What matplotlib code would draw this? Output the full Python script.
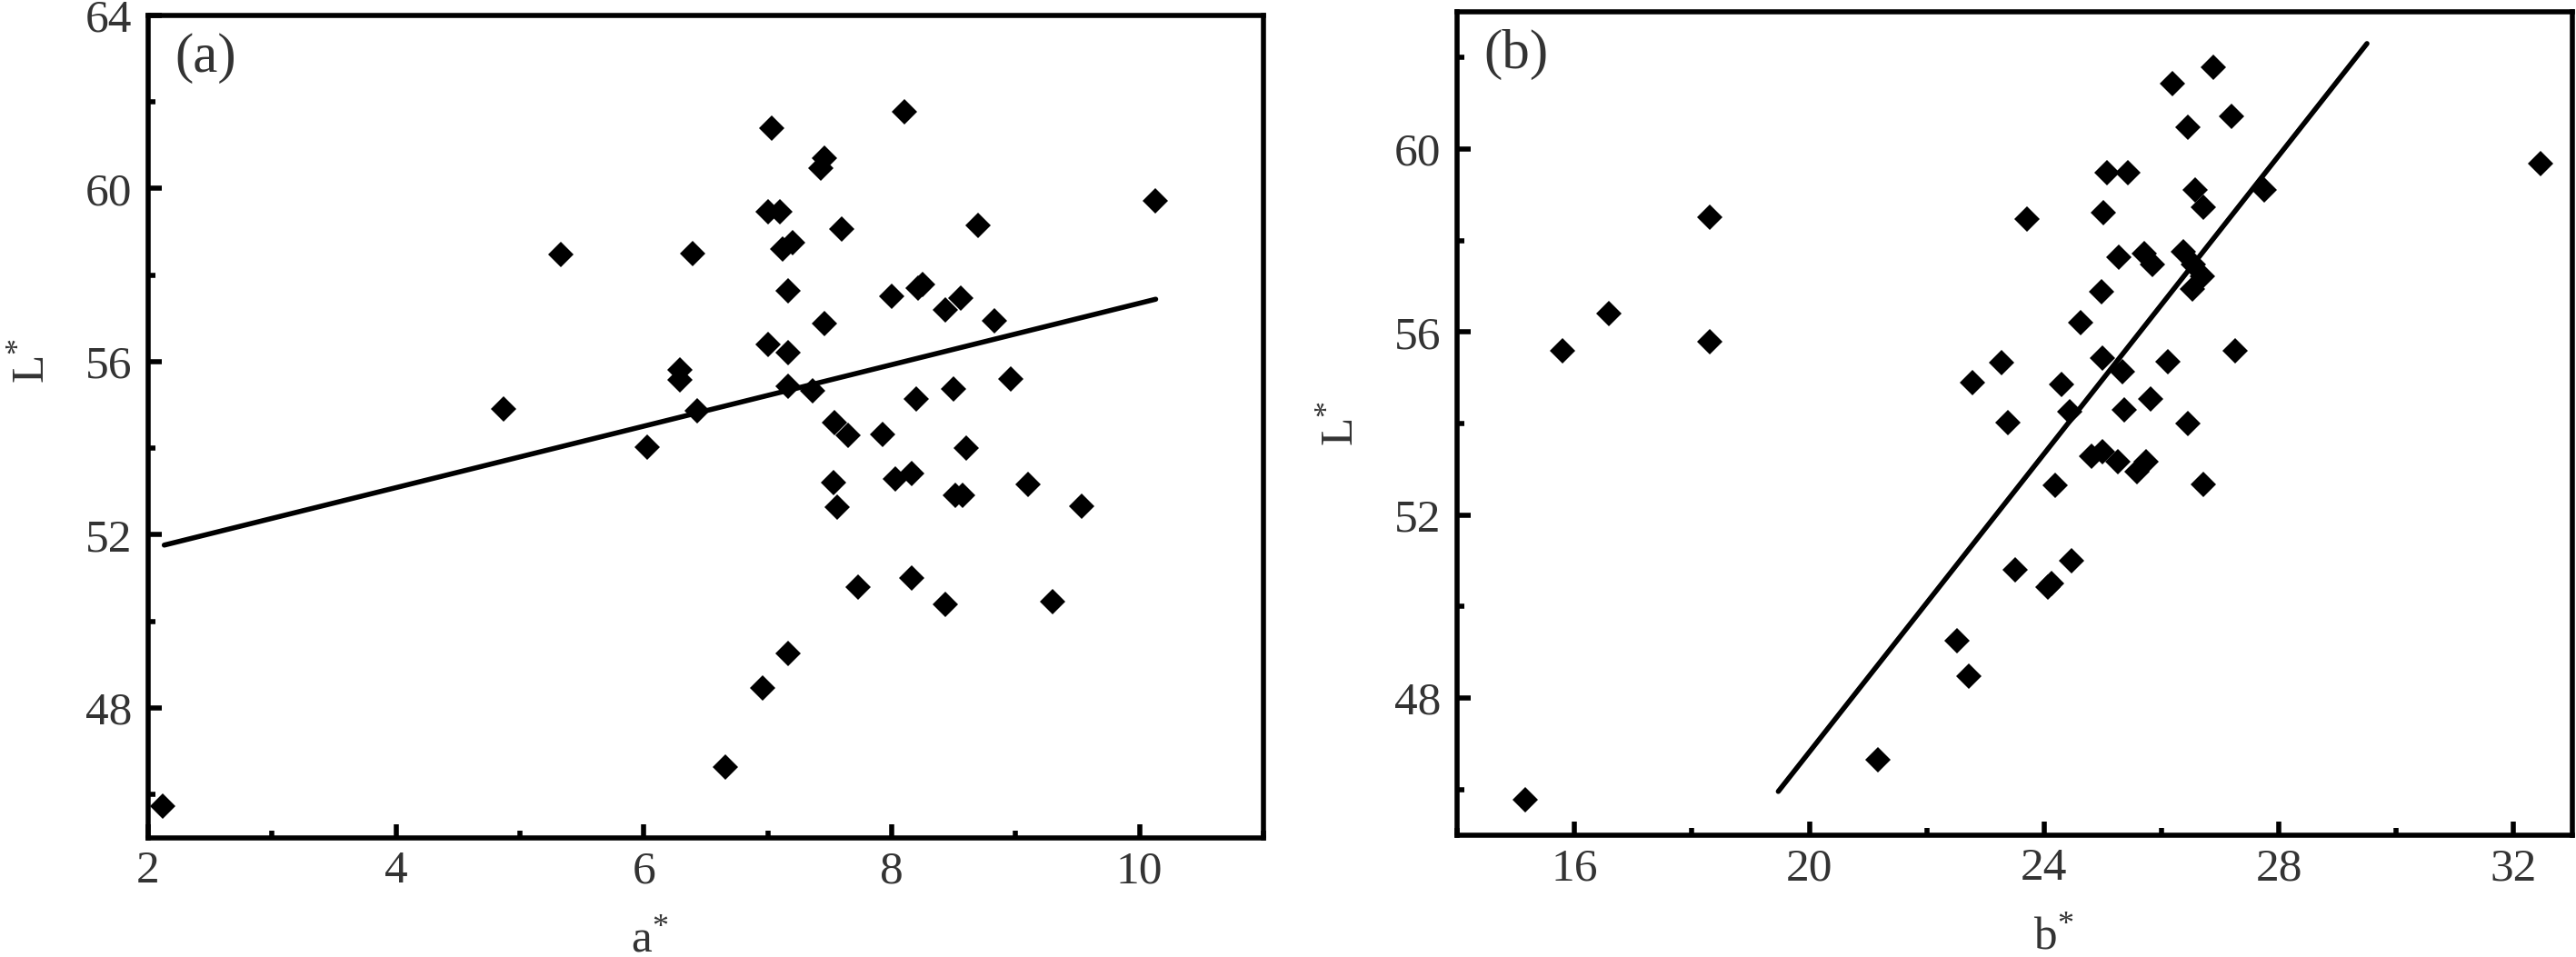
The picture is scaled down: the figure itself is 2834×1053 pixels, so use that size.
import numpy as np
import matplotlib
matplotlib.use('Agg')
import matplotlib.pyplot as plt
from matplotlib.ticker import MultipleLocator

plt.rcParams['font.family'] = ['Liberation Serif', 'DejaVu Serif']
plt.rcParams['mathtext.fontset'] = 'custom'
plt.rcParams['mathtext.rm'] = 'Liberation Serif'
plt.rcParams['mathtext.it'] = 'Liberation Serif'

# panel (a): a* vs L*
a_star = [2.12, 4.87, 5.33, 6.03, 6.29, 6.29, 6.39, 6.43,
          7.03, 8.10, 7.46, 7.43, 7.00, 7.10, 7.60, 8.70, 10.13,
          7.20, 7.12, 7.16, 8.00, 8.21, 8.25, 8.56, 8.43, 8.83,
          7.46, 7.00, 7.16, 7.16, 7.36, 8.20, 8.50, 8.96,
          7.54, 7.65, 7.93, 8.60, 7.53, 8.03, 8.16, 9.10,
          7.56, 8.51, 8.57, 9.53, 7.73, 8.16, 8.43, 9.30,
          7.16, 6.96, 6.66]
L_a = [45.74, 54.90, 58.47, 54.03, 55.80, 55.58, 58.50, 54.86,
       61.40, 61.77, 60.71, 60.48, 59.47, 59.47, 59.07, 59.14, 59.71,
       58.75, 58.60, 57.64, 57.50, 57.70, 57.78, 57.47, 57.20, 56.94,
       56.87, 56.39, 56.21, 55.43, 55.32, 55.14, 55.37, 55.59,
       54.60, 54.30, 54.31, 54.00, 53.21, 53.30, 53.41, 53.16,
       52.64, 52.91, 52.91, 52.67, 50.80, 51.00, 50.39, 50.46,
       49.26, 48.47, 46.63]
fit_a = (0.71, 50.25)
fit_a_range = [2.13, 10.13]

# panel (b): b* vs L*
b_star = [15.16, 15.79, 16.59, 18.30, 18.30, 21.16, 22.51, 22.71,
          23.51, 24.47, 24.07, 24.12,
          26.88, 26.18, 27.19, 26.45, 32.45, 25.07, 25.42, 26.58, 26.71,
          27.75, 23.70, 25.01, 25.27, 25.71, 25.84, 26.37, 26.54, 26.70,
          26.52, 24.98, 24.62, 27.25, 24.99, 26.11, 25.34, 23.27, 22.78,
          24.30, 25.81, 24.44, 25.37, 23.38, 26.45, 24.80, 24.99, 25.25,
          25.58, 25.74, 24.18, 26.71]
L_b = [45.78, 55.59, 56.40, 58.50, 55.79, 46.65, 49.26, 48.48,
       50.80, 50.99, 50.43, 50.50,
       61.78, 61.42, 60.72, 60.48, 59.69, 59.48, 59.48, 59.11, 58.73,
       59.11, 58.46, 58.60, 57.64, 57.71, 57.47, 57.75, 57.47, 57.22,
       56.94, 56.87, 56.20, 55.59, 55.43, 55.35, 55.13, 55.34, 54.90,
       54.86, 54.53, 54.25, 54.30, 54.02, 53.99, 53.29, 53.38, 53.17,
       52.94, 53.17, 52.64, 52.66]
fit_b = (1.63, 14.22)
fit_b_range = [19.47, 29.50]

text_col = '#333333'
fs = 37

fig = plt.figure(figsize=(28.34, 10.53), dpi=100)
ax1 = fig.add_axes([0.0575, 0.1245, 0.433, 0.8595])
ax2 = fig.add_axes([0.5657, 0.1273, 0.4329, 0.8604])


def style(ax, xlim, ylim, xmaj, ymaj, xlabel, panel, xlab_x, ylab_y):
    ax.set_xlim(*xlim)
    ax.set_ylim(*ylim)
    ax.xaxis.set_major_locator(MultipleLocator(xmaj))
    ax.xaxis.set_minor_locator(MultipleLocator(xmaj / 2))
    ax.yaxis.set_major_locator(MultipleLocator(ymaj))
    ax.yaxis.set_minor_locator(MultipleLocator(ymaj / 2))
    for sp in ax.spines.values():
        sp.set_linewidth(4)
    ax.tick_params(which='both', direction='in', width=4, top=False, right=False,
                   labelsize=fs, labelcolor=text_col)
    ax.tick_params(which='major', length=11)
    ax.tick_params(which='minor', length=6)
    ax.tick_params(axis='x', which='major', pad=10)
    ax.tick_params(axis='y', which='major', pad=13)
    ax.set_xlabel(xlabel, fontsize=fs, color=text_col, va='baseline')
    ax.xaxis.set_label_coords(xlab_x, -0.138)
    ax.set_ylabel(r'L$^{*}$', fontsize=fs, color=text_col, va='baseline')
    ax.yaxis.set_label_coords(-0.094, ylab_y)
    ax.text(0.024, 0.979, panel, transform=ax.transAxes, fontsize=44,
            color=text_col, ha='left', va='top')


ax1.plot(a_star, L_a, 'D', color='black', markersize=14, markeredgewidth=0)
xa = np.array(fit_a_range)
ax1.plot(xa, fit_a[0] * xa + fit_a[1], color='black', linewidth=4,
         solid_capstyle='round')
style(ax1, (2, 11), (45, 64), 2, 4, r'a$^{*}$', '(a)', 0.45, 0.58)

ax2.plot(b_star, L_b, 'D', color='black', markersize=14, markeredgewidth=0)
xb = np.array(fit_b_range)
ax2.plot(xb, fit_b[0] * xb + fit_b[1], color='black', linewidth=4,
         solid_capstyle='round')
style(ax2, (14, 33), (45, 63), 4, 4, r'b$^{*}$', '(b)', 0.535, 0.5)

fig.savefig('out.png', dpi=100)
